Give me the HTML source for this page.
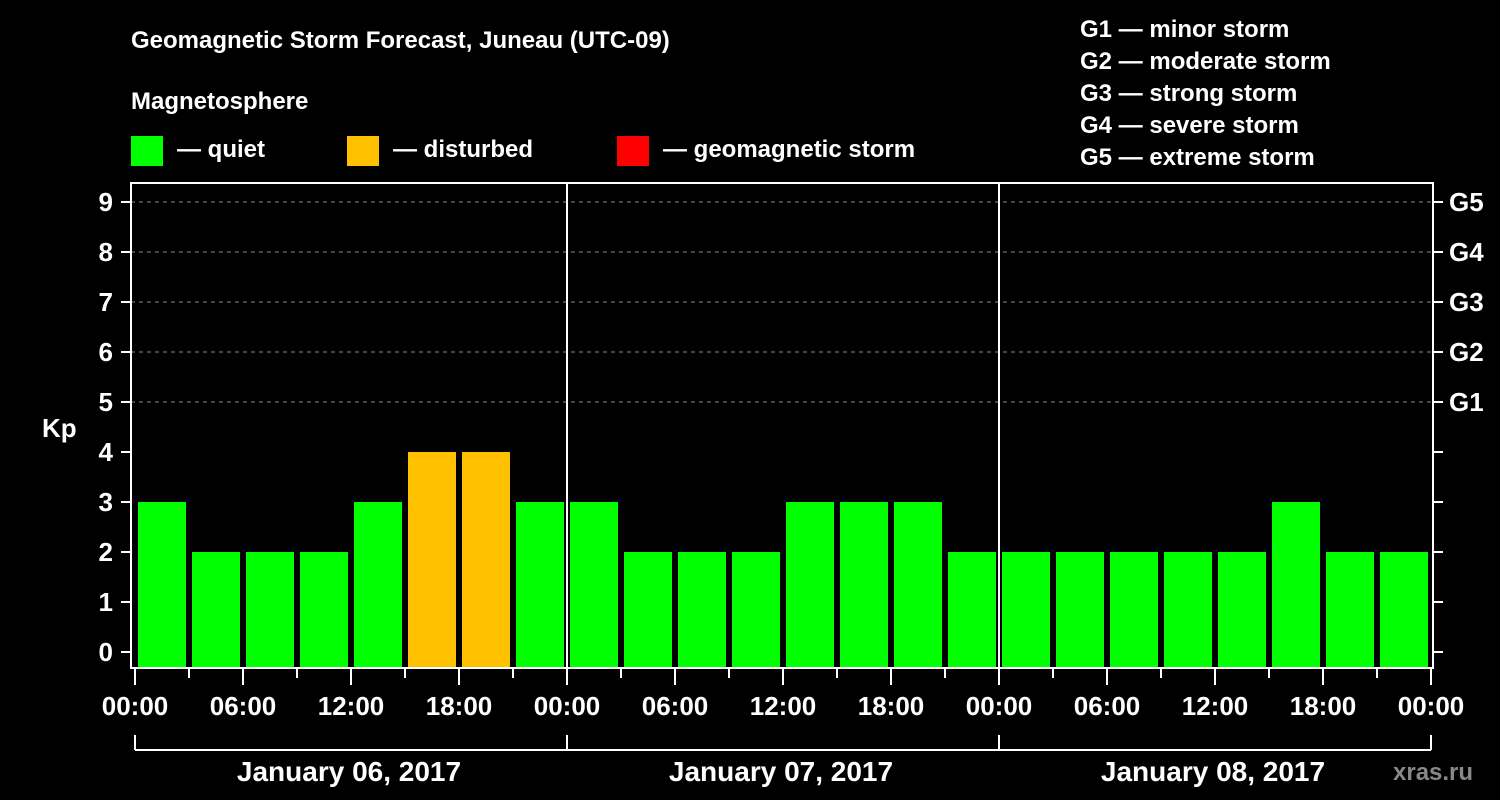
<!DOCTYPE html>
<html><head><meta charset="utf-8"><style>
html,body{margin:0;padding:0;background:#000;}
svg{display:block;font-family:"Liberation Sans",Arial,sans-serif;font-weight:bold;}
</style></head><body>
<svg id="chart" width="1500" height="800" viewBox="0 0 1500 800">
<rect width="1500" height="800" fill="#000"/>
<text x="131" y="48" fill="#fff" font-size="24">Geomagnetic Storm Forecast, Juneau (UTC-09)</text>
<text x="131" y="109" fill="#fff" font-size="24">Magnetosphere</text>
<g><rect x="131" y="136" width="32" height="30" fill="#00ff00"/><text x="177" y="157" fill="#fff" font-size="24">— quiet</text></g>
<g><rect x="347" y="136" width="32" height="30" fill="#ffc000"/><text x="393" y="157" fill="#fff" font-size="24">— disturbed</text></g>
<g><rect x="617" y="136" width="32" height="30" fill="#ff0000"/><text x="663" y="157" fill="#fff" font-size="24">— geomagnetic storm</text></g>
<g fill="#fff" font-size="24">
<text x="1080" y="37">G1 — minor storm</text>
<text x="1080" y="69">G2 — moderate storm</text>
<text x="1080" y="101">G3 — strong storm</text>
<text x="1080" y="133">G4 — severe storm</text>
<text x="1080" y="165">G5 — extreme storm</text>
</g>
<text x="42" y="437" fill="#fff" font-size="26">Kp</text>
<g id="grid"></g>
<g id="bars"></g>
<g id="axes"></g>
<text x="1393" y="780" fill="#888" font-size="24">xras.ru</text>
</svg>
<script>
const days = ["January 06, 2017","January 07, 2017","January 08, 2017"];
const kpValues = [3,2,2,2,3,4,4,3, 3,2,2,2,3,3,3,2, 2,2,2,2,2,3,2,2];
const yTicks = [0,1,2,3,4,5,6,7,8,9];
const gLabels = ["G1","G2","G3","G4","G5"];
const xTickLabels = ["00:00","06:00","12:00","18:00"];
const NS="http://www.w3.org/2000/svg";
const X0=135, SLOT=54, DAY=432, PL=131, PR=1433, PT=183, PB=668;
const y = v => 652 - v*50;
const x = i => X0 + i*SLOT;
function mk(tag, attrs, parent){const e=document.createElementNS(NS,tag);for(const k in attrs)e.setAttribute(k,attrs[k]);parent.appendChild(e);return e;}
const grid=document.getElementById('grid'), bars=document.getElementById('bars'), axes=document.getElementById('axes');
yTicks.forEach(v=>{
  if(v>=5){const l=mk('line',{x1:PL,x2:PR,y1:y(v),y2:y(v),stroke:'#888','stroke-dasharray':'4,4','stroke-width':1},grid);
  
  }
  const t=mk('line',{x1:PL-10,x2:PL,y1:y(v),y2:y(v),stroke:'#fff','stroke-width':2},axes);
  
  
  const tx=mk('text',{x:PL-18,y:y(v)+9,fill:'#fff','font-size':26,'text-anchor':'end'},axes);tx.textContent=v;
  
  
  const rt=mk('line',{x1:PR,x2:PR+10,y1:y(v),y2:y(v),stroke:'#fff','stroke-width':2},axes);
  
  
});
gLabels.forEach((g,i)=>{const t=mk('text',{x:PR+16,y:y(5+i)+9,fill:'#fff','font-size':26},axes);t.textContent=g;
  
  });
kpValues.forEach((v,i)=>{
  const col=v>=5?'#ff0000':(v>=4?'#ffc000':'#00ff00');
  const r=mk('rect',{x:x(i)+3,y:y(v),width:48,height:PB-y(v),fill:col},bars);
  
  
});
const frame=mk('rect',{x:PL,y:PT,width:PR-PL,height:PB-PT,fill:'none',stroke:'#fff','stroke-width':2},axes);


for(let d=1;d<days.length;d++){const l=mk('line',{x1:X0+d*DAY,x2:X0+d*DAY,y1:PT,y2:PB,stroke:'#fff','stroke-width':2},axes);
  
  }
for(let i=0;i<=kpValues.length;i++){
  const major=i%2===0;
  const l=mk('line',{x1:x(i),x2:x(i),y1:PB,y2:PB+(major?17:10),stroke:'#fff','stroke-width':2},axes);
  
  
  if(major){const t=mk('text',{x:x(i),y:715,fill:'#fff','font-size':26,'text-anchor':'middle'},axes);
    t.textContent=xTickLabels[(i/2)%4];
    
    }
}
const br=mk('line',{x1:X0,x2:X0+days.length*DAY,y1:750,y2:750,stroke:'#fff','stroke-width':2},axes);


for(let d=0;d<=days.length;d++){const l=mk('line',{x1:X0+d*DAY,x2:X0+d*DAY,y1:735,y2:750,stroke:'#fff','stroke-width':2},axes);
  
  }
days.forEach((s,d)=>{const t=mk('text',{x:X0+d*DAY+DAY/2-2,y:781,fill:'#fff','font-size':28,'text-anchor':'middle'},axes);t.textContent=s;
  
  });
</script>
</body></html>
